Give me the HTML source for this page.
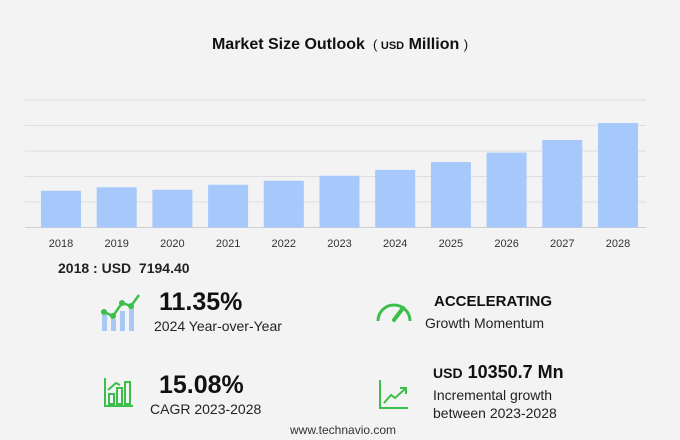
<!DOCTYPE html>
<html><head><meta charset="utf-8"><style>
body{margin:0;width:680px;height:440px;background:#f3f3f4;font-family:"Liberation Sans",sans-serif;overflow:hidden;position:relative}
.t{position:absolute;white-space:nowrap;color:#111}
</style></head><body>
<div class="t" style="left:0;width:680px;text-align:center;top:36px;font-size:16px;font-weight:bold">Market Size Outlook <span style="font-weight:normal;font-size:13px">&nbsp;( </span><span style="font-size:11px">USD</span> Million <span style="font-weight:normal;font-size:13px">)</span></div>
<svg id="chart" width="680" height="260" style="position:absolute;left:0;top:0"></svg>
<div class="t" style="left:58px;top:260px;font-size:14px;font-weight:bold;color:#222">2018 : USD &nbsp;7194.40</div>

<svg style="position:absolute;left:100px;top:293px" width="42" height="40">
<g fill="#a9c8f5"><rect x="2" y="22" width="5" height="16"/><rect x="11" y="26" width="5" height="12"/><rect x="20" y="18" width="5" height="20"/><rect x="29" y="12" width="5" height="26"/></g>
<polyline points="4,19 13,23 22,10 31,13 39,2" fill="none" stroke="#3cbf4a" stroke-width="2.5"/>
<g fill="#3cbf4a"><circle cx="4" cy="19" r="3"/><circle cx="13" cy="23" r="3"/><circle cx="22" cy="10" r="3"/><circle cx="31" cy="13" r="3"/></g></svg>
<div class="t" style="left:159px;top:288px;font-size:25px;font-weight:bold">11.35%</div>
<div class="t" style="left:154px;top:318px;font-size:14px;color:#222">2024 Year-over-Year</div>

<svg style="position:absolute;left:375px;top:296px" width="38" height="28">
<path d="M3,25 A16,16 0 0 1 35,25" fill="none" stroke="#3cbf4a" stroke-width="3"/>
<line x1="19" y1="24" x2="28" y2="12" stroke="#3cbf4a" stroke-width="4" stroke-linecap="round"/></svg>
<div class="t" style="left:434px;top:293px;font-size:15px;font-weight:bold">ACCELERATING</div>
<div class="t" style="left:425px;top:315px;font-size:14px;color:#222">Growth Momentum</div>

<svg style="position:absolute;left:104px;top:378px" width="30" height="30">
<g fill="none" stroke="#3cbf4a" stroke-width="2"><polyline points="1,0 1,28 29,28"/><rect x="5" y="16" width="5" height="10"/><rect x="13" y="10" width="5" height="16"/><rect x="21" y="4" width="5" height="22"/><polyline points="4,12 12,5 16,7"/></g></svg>
<div class="t" style="left:159px;top:371px;font-size:25px;font-weight:bold">15.08%</div>
<div class="t" style="left:150px;top:401px;font-size:14px;color:#222">CAGR 2023-2028</div>

<svg style="position:absolute;left:379px;top:380px" width="30" height="30">
<g fill="none" stroke="#3cbf4a" stroke-width="2"><polyline points="1,0 1,28 29,28"/><polyline points="5,23 12,15 16,18 27,8"/><polyline points="21,8 27,8 27,14"/></g></svg>
<div class="t" style="left:433px;top:362px;font-size:18px;font-weight:bold"><span style="font-size:14px">USD</span> 10350.7 Mn</div>
<div class="t" style="left:433px;top:386px;font-size:14px;color:#222;line-height:18px">Incremental growth<br>between 2023-2028</div>
<div class="t" style="left:290px;top:423px;font-size:12px;color:#333">www.technavio.com</div>

<script>
const years=["2018","2019","2020","2021","2022","2023","2024","2025","2026","2027","2028"];
const values=[7194.4,7890,7390,8380,9170,10150,11300,12820,14690,17150,20500];
const gridTicks=[0,5000,10000,15000,20000,25000];
const svg=document.getElementById('chart');
const NS='http://www.w3.org/2000/svg';
const y0=227.5,pxPer=25.5/5000;
const yS=v=>y0-v*pxPer;
const xS=i=>41+i*55.7;
gridTicks.forEach(t=>{
 const l=document.createElementNS(NS,'line');
 
 
 l.setAttribute('x1',25);l.setAttribute('x2',646);
 l.setAttribute('y1',yS(t));l.setAttribute('y2',yS(t));
 l.setAttribute('stroke',t===0?'#cfcfd2':'#dedee2');l.setAttribute('stroke-width',1);
 svg.appendChild(l);
});
values.forEach((v,i)=>{
 const r=document.createElementNS(NS,'rect');
 
 
 r.setAttribute('x',xS(i));r.setAttribute('width',40);
 r.setAttribute('y',yS(v));r.setAttribute('height',v*pxPer);
 r.setAttribute('fill','#a6c8fb');
 svg.appendChild(r);
 const tx=document.createElementNS(NS,'text');
 
 
 tx.setAttribute('x',xS(i)+20);tx.setAttribute('y',247);
 tx.setAttribute('text-anchor','middle');tx.setAttribute('font-size','11');
 tx.setAttribute('fill','#333');tx.setAttribute('font-family','Liberation Sans, sans-serif');
 tx.textContent=years[i];
 svg.appendChild(tx);
});
</script>
</body></html>
